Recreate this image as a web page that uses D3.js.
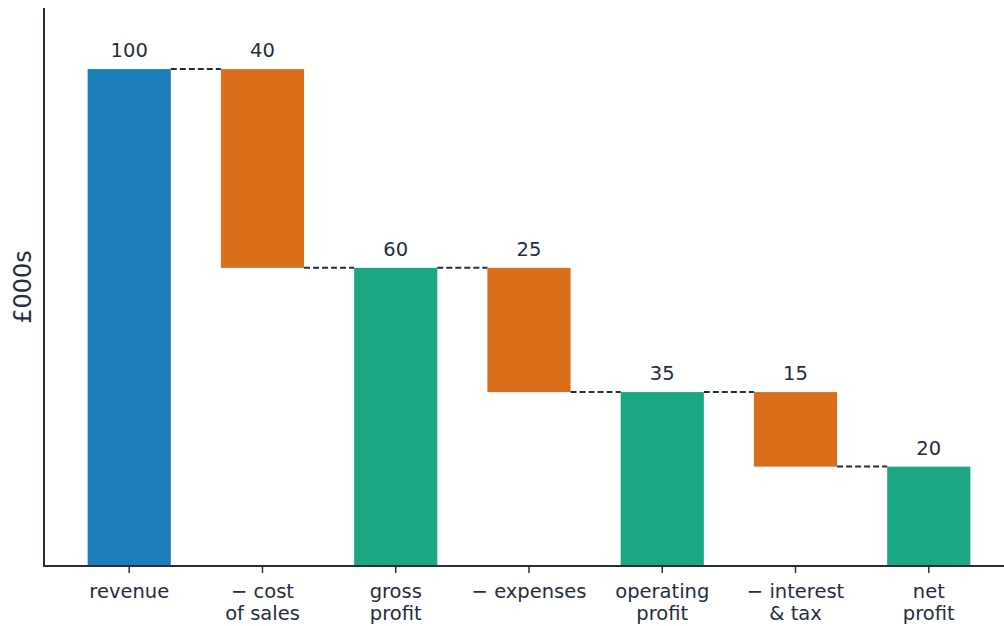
<!DOCTYPE html>
<html>
<head>
<meta charset="utf-8">
<script src="https://cdn.jsdelivr.net/npm/d3@7"></script>
<style>
  body { margin: 0; background: #fff; }
  svg text { font-family: "DejaVu Sans", sans-serif; fill: #262d3d; }
</style>
</head>
<body>
<svg id="chart" width="1004" height="626"></svg>
<script>
// data
var categories = ["revenue", "\u2212 cost\nof sales", "gross\nprofit", "\u2212 expenses", "operating\nprofit", "\u2212 interest\n& tax", "net\nprofit"];
var values = [100, 40, 60, 25, 35, 15, 20];
var kinds = ["start", "minus", "total", "minus", "total", "minus", "total"];

var colors = { start: "#1a7fba", minus: "#d96e1b", total: "#1ba784" };
var ink = "#262d3d";

var svg = d3.select("#chart");
var plotLeft = 44, plotBottom = 566, plotTop = 8;

var x = d3.scaleBand()
    .domain(d3.range(categories.length))
    .range([plotLeft + 1, 1013])
    .paddingInner(0.376)
    .paddingOuter(0.32);

var y = d3.scaleLinear().domain([0, 112.3]).range([plotBottom, plotTop]);

// work out bar spans (low/high) from running total
var bars = [];
var running = 0;
for (let i = 0; i < values.length; i++) {
    var lo, hi;
    if (kinds[i] == "minus") {
        hi = running;
        lo = running - values[i];
        running = lo;
    } else {
        lo = 0;
        hi = values[i];
        running = hi;
    }
    bars.push({ i: i, lo: lo, hi: hi, level: running, v: values[i], kind: kinds[i] });
}

// bars
svg.selectAll("rect.bar")
    .data(bars)
    .enter()
    .append("rect")
    .attr("class", "bar")
    .attr("x", d => x(d.i))
    .attr("width", x.bandwidth())
    .attr("y", d => y(d.hi))
    .attr("height", d => y(d.lo) - y(d.hi))
    .attr("fill", d => colors[d.kind]);

// dashed connectors
svg.selectAll("line.conn")
    .data(bars.slice(0, -1))
    .enter()
    .append("line")
    .attr("x1", d => x(d.i) + x.bandwidth())
    .attr("x2", d => x(d.i + 1))
    .attr("y1", d => y(d.level))
    .attr("y2", d => y(d.level))
    .attr("stroke", ink)
    .attr("stroke-width", 2)
    .attr("stroke-dasharray", "6,3");

// value labels
svg.selectAll("text.val")
    .data(bars)
    .enter()
    .append("text")
    .attr("class", "val")
    .attr("x", d => x(d.i) + x.bandwidth() / 2)
    .attr("y", d => y(d.hi) - 12)
    .attr("text-anchor", "middle")
    .attr("font-size", 19.5)
    .text(d => d.v);

// axes
svg.append("line")
    .attr("x1", plotLeft).attr("x2", plotLeft)
    .attr("y1", plotTop).attr("y2", plotBottom)
    .attr("stroke", ink).attr("stroke-width", 2);
svg.append("line")
    .attr("x1", plotLeft - 1).attr("x2", 1004)
    .attr("y1", plotBottom).attr("y2", plotBottom)
    .attr("stroke", ink).attr("stroke-width", 2);

var ticks = svg.selectAll("g.tick")
    .data(categories)
    .enter()
    .append("g")
    .attr("class", "tick")
    .attr("transform", (d, i) => "translate(" + (x(i) + x.bandwidth() / 2) + "," + plotBottom + ")");

ticks.append("line")
    .attr("y1", 0).attr("y2", 7)
    .attr("stroke", ink).attr("stroke-width", 1.5);

ticks.append("text")
    .attr("text-anchor", "middle")
    .attr("font-size", 19.5)
    .selectAll("tspan")
    .data(d => d.split("\n"))
    .enter()
    .append("tspan")
    .attr("x", 0)
    .attr("y", (d, j) => 32 + j * 22)
    .text(d => d);

// y axis title
svg.append("text")
    .attr("transform", "translate(31," + ((plotTop + plotBottom) / 2) + ") rotate(-90)")
    .attr("text-anchor", "middle")
    .attr("font-size", 24)
    .text("\u00a3000s");
</script>
</body>
</html>
